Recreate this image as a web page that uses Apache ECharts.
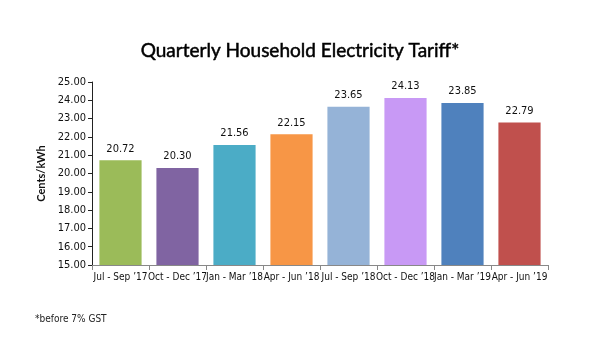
<!DOCTYPE html>
<html><head><meta charset="utf-8">
<script src="https://cdn.jsdelivr.net/npm/echarts@6/dist/echarts.min.js"></script>
<style>html,body{margin:0;padding:0;background:#fff}#c{width:600px;height:360px}</style>
</head><body><div id="c"></div>
<script>
const categories = ["Jul - Sep \u201917","Oct - Dec \u201917","Jan - Mar \u201918","Apr - Jun \u201918","Jul - Sep \u201918","Oct - Dec \u201918","Jan - Mar \u201919","Apr - Jun \u201919"];
const tariff = [20.72, 20.30, 21.56, 22.15, 23.65, 24.13, 23.85, 22.79];
const barColors = ["#9BBB59","#8064A2","#4BACC6","#F79646","#95B3D7","#C899F5","#4F81BD","#C0504D"];

const narrow = '"DejaVu Sans Condensed", sans-serif';
const chart = echarts.init(document.getElementById('c'));
chart.setOption({
  animation: false,
  title: [{
    text: 'Quarterly Household Electricity Tariff*',
    left: 'center', top: 36,
    textStyle: {fontFamily: 'Lato', fontSize: 19, fontWeight: 'normal', color: '#000', textBorderColor: '#000', textBorderWidth: 0.5}
  },{
    text: '*before 7% GST', left: 30, top: 309,
    textStyle: {fontFamily: narrow, fontSize: 10, fontWeight: 'normal', color: '#222'}
  }],
  grid: {left: 92, right: 52, top: 82, bottom: 95},
  xAxis: {
    type: 'category', data: categories,
    axisLine: {lineStyle: {color: '#888'}},
    axisTick: {show: true, length: 5, lineStyle: {color: '#888'}},
    axisLabel: {fontFamily: narrow, fontSize: 10, color: '#111', margin: 7, interval: 0}
  },
  yAxis: {
    type: 'value', min: 15, max: 25, interval: 1,
    name: 'Cents/kWh', nameLocation: 'middle', nameGap: 40, nameRotate: 90,
    nameTextStyle: {fontFamily: 'Lato', fontSize: 11, fontWeight: 'bold', color: '#111'},
    axisLine: {show: true, lineStyle: {color: '#222'}},
    axisTick: {show: true, inside: false, length: 4, lineStyle: {color: '#222'}},
    splitLine: {show: false},
    axisLabel: {fontFamily: narrow, fontSize: 11, color: '#111', formatter: v => v.toFixed(2), margin: 6}
  },
  series: [{
    type: 'bar', barWidth: '74%',
    data: tariff.map((v, i) => ({value: v, itemStyle: {color: barColors[i]}})),
    label: {show: true, position: 'top', distance: 6, fontFamily: narrow, fontSize: 11, color: '#111', formatter: p => p.value.toFixed(2)}
  }]
});
</script></body></html>
